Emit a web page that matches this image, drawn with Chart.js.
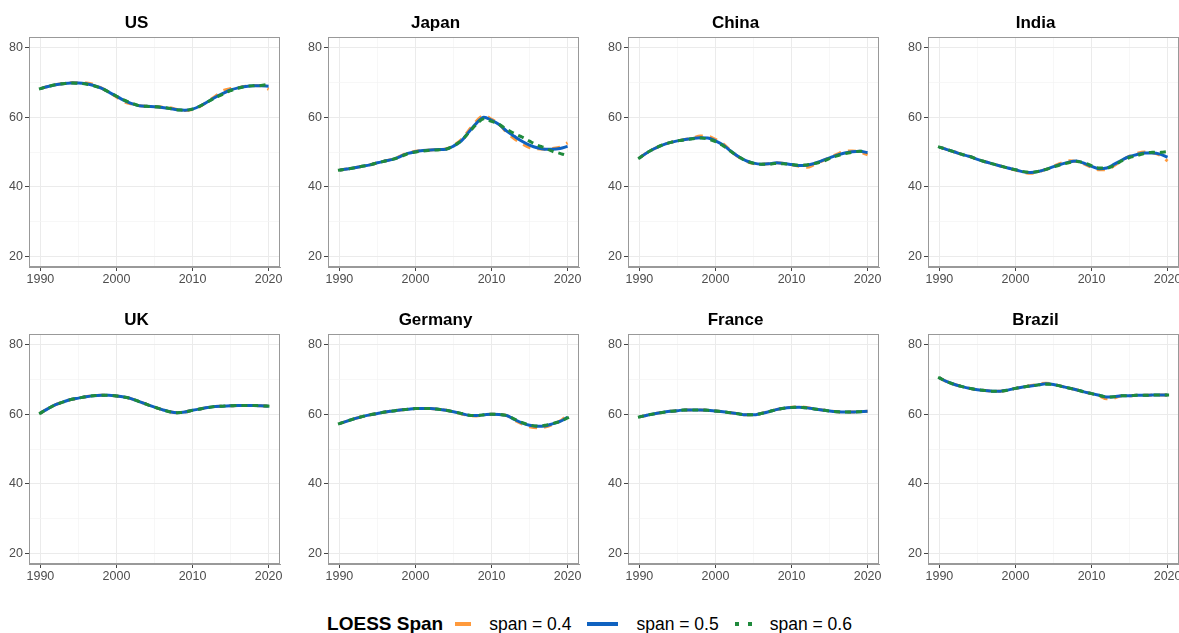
<!DOCTYPE html>
<html>
<head>
<meta charset="utf-8">
<script src="https://cdn.jsdelivr.net/npm/chart.js@4/dist/chart.umd.min.js"></script>
<style>
  html, body { margin: 0; padding: 0; background: #ffffff; }
  body { width: 1179px; height: 633px; position: relative; overflow: hidden; font-family: "Liberation Sans", Arial, sans-serif; }
  canvas.panel { position: absolute; }
  #legend { position: absolute; left: 0; width: 1179px; top: 612px; height: 24px; display: flex; justify-content: center; align-items: center; color: #000; }
  #legend .ttl { font-weight: bold; font-size: 19px; margin-right: 12px; }
  #legend .lab { font-size: 17.5px; margin-right: 16px; }
  #legend .lab:last-child { margin-right: 0; }
  #legend .key { display: inline-block; position: relative; height: 4px; margin-right: 18px; }
</style>
</head>
<body>
<div id="legend">
  <span class="ttl">LOESS Span</span>
  <span class="key" style="width:16px;background:#ff9a3c;"></span>
  <span class="lab">span = 0.4</span>
  <span class="key" style="width:31px;background:#0f62c0;"></span>
  <span class="lab">span = 0.5</span>
  <span class="key" style="width:17px;background:linear-gradient(to right,#1f8a3c 0,#1f8a3c 4px,transparent 4px,transparent 13px,#1f8a3c 13px,#1f8a3c 17px);"></span>
  <span class="lab">span = 0.6</span>
</div>
<script>
// Years on the x axis
const years = [1990,1991,1992,1993,1994,1995,1996,1997,1998,1999,2000,2001,2002,2003,2004,2005,2006,2007,2008,2009,2010,2011,2012,2013,2014,2015,2016,2017,2018,2019,2020];

const countries = ["US", "Japan", "China", "India", "UK", "Germany", "France", "Brazil"];
const spanLabels = ["span = 0.4", "span = 0.5", "span = 0.6"];

const xTicks = [1990, 1995, 2000, 2005, 2010, 2015, 2020];
const xTickLabels = [1990, 2000, 2010, 2020];
const yTicks = [20, 30, 40, 50, 60, 70, 80];
const yTickLabels = [20, 40, 60, 80];

// LOESS smoothed series, one array per country and span
const usSpan04 = [68.2,68.8,69.3,69.7,69.9,69.9,69.8,69.4,68.4,67.1,65.8,64.4,63.8,63.3,63.1,63.0,62.9,62.7,62.2,61.9,62.2,63.1,64.5,66.0,67.6,68.2,68.5,68.9,69.1,69.0,68.0];
const usSpan05 = [68.2,68.8,69.3,69.6,69.8,69.8,69.6,69.1,68.3,67.2,66.0,64.8,63.9,63.3,63.1,63.0,62.8,62.5,62.1,62.0,62.3,63.2,64.4,65.7,66.8,67.8,68.4,68.8,69.0,69.0,68.9];
const usSpan06 = [68.2,68.8,69.3,69.6,69.8,69.7,69.5,69.0,68.3,67.2,66.0,64.9,64.0,63.3,63.1,63.0,62.8,62.5,62.1,62.0,62.3,63.2,64.4,65.6,66.6,67.6,68.3,68.8,69.0,69.1,69.4];

const japanSpan04 = [44.8,45.1,45.5,45.9,46.3,46.9,47.4,48.0,48.8,49.8,50.2,50.4,50.6,50.7,50.9,51.9,53.5,56.2,58.8,60.5,59.4,58.0,55.6,53.8,52.4,51.3,50.9,50.8,51.0,51.4,52.6];
const japanSpan05 = [44.8,45.1,45.5,45.9,46.3,46.9,47.4,47.9,48.7,49.6,50.1,50.4,50.6,50.7,50.8,51.7,53.1,55.7,58.2,60.0,59.1,57.9,56.0,54.5,53.1,52.0,51.2,50.8,50.8,51.0,51.6];
const japanSpan06 = [44.8,45.1,45.5,45.9,46.3,46.9,47.4,47.9,48.6,49.5,50.0,50.3,50.5,50.6,50.8,51.8,53.2,55.5,57.9,59.5,58.8,57.9,56.5,55.3,54.3,53.1,52.0,51.2,50.2,49.6,48.9];

const chinaSpan04 = [48.3,49.8,51.0,52.0,52.7,53.2,53.6,54.0,54.6,54.5,53.6,52.4,50.4,48.6,47.4,46.7,46.5,46.6,46.9,46.7,46.3,45.9,45.6,46.4,47.4,48.4,49.4,50.2,50.3,50.0,49.2];
const chinaSpan05 = [48.3,49.8,51.0,52.0,52.7,53.2,53.6,53.9,54.1,54.0,53.2,52.0,50.3,48.7,47.5,46.8,46.5,46.6,46.9,46.7,46.4,46.1,46.2,46.7,47.5,48.3,49.1,49.7,50.1,50.2,49.8];
const chinaSpan06 = [48.3,49.8,51.0,52.0,52.7,53.2,53.5,53.8,54.0,53.7,53.0,51.8,50.2,48.7,47.5,46.8,46.5,46.5,46.7,46.6,46.4,46.2,46.3,46.7,47.2,48.1,48.9,49.5,49.9,50.2,50.1];

const indiaSpan04 = [51.4,50.7,50.0,49.3,48.7,47.9,47.2,46.6,46.0,45.4,44.8,44.2,43.9,44.3,45.0,45.9,46.8,47.5,47.3,46.6,45.6,44.9,44.9,46.1,47.6,48.8,49.6,50.0,49.8,49.1,47.4];
const indiaSpan05 = [51.4,50.7,50.0,49.3,48.7,47.9,47.2,46.6,46.0,45.4,44.9,44.3,44.1,44.4,45.0,45.8,46.5,47.1,47.4,46.8,45.9,45.2,45.4,46.5,47.7,48.7,49.3,49.7,49.7,49.4,48.5];
const indiaSpan06 = [51.4,50.7,50.0,49.3,48.7,47.9,47.2,46.6,46.0,45.4,44.9,44.4,44.2,44.4,45.0,45.7,46.4,46.9,47.3,46.9,46.1,45.4,45.4,46.2,47.5,48.4,49.0,49.6,49.9,49.9,50.1];

const ukSpan04 = [60.3,61.6,62.7,63.5,64.2,64.6,65.0,65.3,65.4,65.4,65.2,64.9,64.4,63.6,62.8,62.0,61.3,60.7,60.4,60.6,61.1,61.5,61.9,62.2,62.3,62.4,62.5,62.5,62.5,62.4,62.3];
const ukSpan05 = [60.3,61.6,62.7,63.5,64.2,64.6,65.0,65.3,65.4,65.4,65.2,64.9,64.4,63.6,62.8,62.0,61.3,60.7,60.4,60.6,61.1,61.5,61.9,62.2,62.3,62.4,62.5,62.5,62.5,62.4,62.3];
const ukSpan06 = [60.3,61.6,62.7,63.5,64.2,64.6,65.0,65.3,65.4,65.4,65.2,64.9,64.4,63.6,62.8,62.0,61.3,60.7,60.4,60.6,61.1,61.5,61.9,62.2,62.3,62.4,62.5,62.5,62.5,62.4,62.3];

const germanySpan04 = [57.3,58.0,58.7,59.3,59.8,60.2,60.6,60.9,61.2,61.4,61.6,61.6,61.6,61.4,61.1,60.7,60.1,59.6,59.5,59.8,60.0,59.9,59.6,58.3,57.2,56.4,56.1,56.3,57.0,58.0,59.8];
const germanySpan05 = [57.3,58.0,58.7,59.3,59.8,60.2,60.6,60.9,61.2,61.4,61.6,61.6,61.6,61.4,61.1,60.7,60.2,59.7,59.6,59.8,60.0,59.9,59.6,58.5,57.5,56.8,56.5,56.6,57.2,57.9,59.1];
const germanySpan06 = [57.3,58.0,58.7,59.3,59.8,60.2,60.6,60.9,61.2,61.4,61.6,61.6,61.6,61.4,61.1,60.7,60.2,59.7,59.6,59.8,60.0,59.9,59.6,58.6,57.6,56.9,56.6,56.8,57.3,57.9,58.9];

const franceSpan04 = [59.2,59.7,60.1,60.5,60.8,61.0,61.2,61.2,61.2,61.1,60.9,60.7,60.4,60.1,59.8,59.8,60.2,60.7,61.3,61.7,62.0,62.1,61.9,61.5,61.2,60.9,60.7,60.6,60.6,60.7,60.8];
const franceSpan05 = [59.2,59.7,60.1,60.5,60.8,61.0,61.2,61.2,61.2,61.1,60.9,60.7,60.4,60.1,59.8,59.8,60.2,60.7,61.3,61.7,61.9,62.0,61.8,61.5,61.2,60.9,60.7,60.6,60.6,60.7,60.8];
const franceSpan06 = [59.2,59.7,60.1,60.5,60.8,61.0,61.2,61.2,61.2,61.1,60.9,60.7,60.4,60.1,59.8,59.8,60.2,60.7,61.3,61.7,61.9,62.0,61.8,61.5,61.2,60.9,60.7,60.6,60.6,60.7,60.8];

const brazilSpan04 = [70.4,69.3,68.5,67.9,67.4,67.0,66.8,66.6,66.6,66.9,67.4,67.8,68.2,68.6,68.9,68.6,68.0,67.5,67.0,66.4,65.9,65.3,64.4,64.6,65.3,65.3,65.4,65.4,65.5,65.5,65.5];
const brazilSpan05 = [70.4,69.3,68.5,67.9,67.4,67.0,66.8,66.6,66.6,66.9,67.4,67.8,68.1,68.4,68.7,68.5,68.0,67.5,67.0,66.4,65.9,65.4,64.9,65.0,65.3,65.3,65.4,65.4,65.5,65.5,65.5];
const brazilSpan06 = [70.4,69.3,68.5,67.9,67.4,67.0,66.8,66.6,66.6,66.9,67.4,67.8,68.1,68.4,68.6,68.5,68.0,67.5,67.0,66.4,65.9,65.4,64.9,65.0,65.3,65.3,65.4,65.4,65.5,65.5,65.5];

const seriesByCountry = {
  US:      [usSpan04, usSpan05, usSpan06],
  Japan:   [japanSpan04, japanSpan05, japanSpan06],
  China:   [chinaSpan04, chinaSpan05, chinaSpan06],
  India:   [indiaSpan04, indiaSpan05, indiaSpan06],
  UK:      [ukSpan04, ukSpan05, ukSpan06],
  Germany: [germanySpan04, germanySpan05, germanySpan06],
  France:  [franceSpan04, franceSpan05, franceSpan06],
  Brazil:  [brazilSpan04, brazilSpan05, brazilSpan06]
};

// Panel geometry (plot area of each facet)
const colLefts = [29, 328, 628, 928];
const rowTops = [37, 334];
const PLOT_W = 251, PLOT_H = 230;
const Y_AXIS_W = 36, TITLE_H = 37, X_AXIS_H = 24, PAD_R = 6;

// Line styles per span: orange dashed, blue solid, green dotted (green on top)
const spanStyles = [
  { color: "#ff9a3c", dash: [8, 7], order: 2 },
  { color: "#0f62c0", dash: [],     order: 1 },
  { color: "#1f8a3c", dash: [3, 8], order: 0 }
];

const FONT = "'Liberation Sans', Arial, sans-serif";

// Frame around the plot area
const panelFrame = {
  id: "panelFrame",
  afterDraw(chart) {
    const a = chart.chartArea, ctx = chart.ctx;
    ctx.save();
    ctx.strokeStyle = "#999999";
    ctx.lineWidth = 1;
    ctx.strokeRect(Math.round(a.left) + 0.5, Math.round(a.top) + 0.5, Math.round(a.right - a.left) - 1, Math.round(a.bottom - a.top) - 1);
    ctx.restore();
  }
};

function makePanel(name, idx) {
  const col = idx % 4, row = Math.floor(idx / 4);
  const canvas = document.createElement("canvas");
  canvas.className = "panel";
  const w = Y_AXIS_W + PLOT_W + PAD_R;
  const h = TITLE_H + PLOT_H + X_AXIS_H;
  canvas.width = w; canvas.height = h;
  canvas.style.left = (colLefts[col] - Y_AXIS_W) + "px";
  canvas.style.top = (rowTops[row] - TITLE_H) + "px";
  canvas.style.width = w + "px"; canvas.style.height = h + "px";
  document.body.appendChild(canvas);

  const datasets = seriesByCountry[name].map((vals, i) => ({
    label: spanLabels[i],
    data: years.map((y, j) => ({ x: y, y: vals[j] })),
    borderColor: spanStyles[i].color,
    borderDash: spanStyles[i].dash,
    borderWidth: 3,
    borderCapStyle: i === 2 ? "square" : "butt",
    pointRadius: 0,
    fill: false,
    cubicInterpolationMode: "monotone",
    order: spanStyles[i].order
  }));

  new Chart(canvas, {
    type: "line",
    data: { datasets },
    plugins: [panelFrame],
    options: {
      responsive: false,
      devicePixelRatio: 1,
      animation: false,
      layout: { padding: { left: 0, right: PAD_R, top: 0, bottom: 0 } },
      plugins: {
        legend: { display: false },
        tooltip: { enabled: false },
        title: {
          display: true,
          text: name,
          color: "#000000",
          font: { family: FONT, size: 17, weight: "bold", lineHeight: 1.2 },
          padding: { top: 13.6, bottom: 3 }
        }
      },
      scales: {
        x: {
          type: "linear",
          min: 1988.5, max: 2021.5,
          afterBuildTicks: (s) => { s.ticks = xTicks.map(v => ({ value: v })); },
          afterFit: (s) => { s.height = X_AXIS_H; },
          border: { display: true, color: "#999999", width: 1 },
          grid: {
            color: (c) => xTickLabels.includes(c.tick && c.tick.value) ? "#ebebeb" : "#f3f3f3",
            lineWidth: (c) => xTickLabels.includes(c.tick && c.tick.value) ? 1 : 0.7,
            tickColor: (c) => xTickLabels.includes(c.tick && c.tick.value) ? "#444444" : "rgba(0,0,0,0)",
            tickLength: 4,
            tickWidth: 1
          },
          ticks: {
            autoSkip: false,
            maxRotation: 0,
            padding: 1,
            color: "#4d4d4d",
            font: { family: FONT, size: 12.5 },
            callback: (v) => xTickLabels.includes(v) ? String(v) : ""
          }
        },
        y: {
          type: "linear",
          min: 17, max: 83,
          afterBuildTicks: (s) => { s.ticks = yTicks.map(v => ({ value: v })); },
          afterFit: (s) => { s.width = Y_AXIS_W; },
          border: { display: true, color: "#999999", width: 1 },
          grid: {
            color: (c) => yTickLabels.includes(c.tick && c.tick.value) ? "#ebebeb" : "#f3f3f3",
            lineWidth: (c) => yTickLabels.includes(c.tick && c.tick.value) ? 1 : 0.7,
            tickColor: (c) => yTickLabels.includes(c.tick && c.tick.value) ? "#444444" : "rgba(0,0,0,0)",
            tickLength: 4,
            tickWidth: 1
          },
          ticks: {
            autoSkip: false,
            padding: 2,
            color: "#4d4d4d",
            font: { family: FONT, size: 12.5 },
            callback: (v) => yTickLabels.includes(v) ? String(v) : ""
          }
        }
      }
    }
  });
}

countries.forEach((c, i) => makePanel(c, i));
</script>
</body>
</html>
